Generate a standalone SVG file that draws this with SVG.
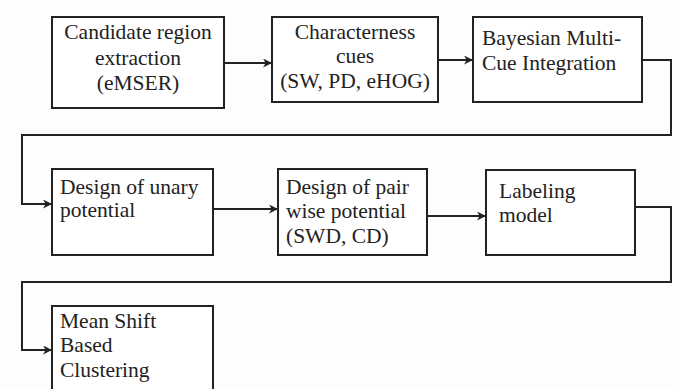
<svg xmlns="http://www.w3.org/2000/svg" width="678" height="389" viewBox="0 0 678 389">
<defs>
<marker id="arr" viewBox="0 0 10 10" refX="10" refY="5" markerWidth="10" markerHeight="9" orient="auto" markerUnits="userSpaceOnUse">
<path d="M0,0 L10,5 L0,10 L3,5 Z" fill="#222"/>
</marker>
<style>
.box{fill:#fff;stroke:#222;stroke-width:2}
.t{font-family:'Liberation Serif','Times New Roman','DejaVu Serif',serif;font-size:21.5px;fill:#222}
.c{text-anchor:middle}
.ln{fill:none;stroke:#222;stroke-width:2;marker-end:url(#arr)}
</style>
</defs>
<rect width="678" height="389" fill="#fdfdfd"/>
<g id="connectors">
<path class="ln" d="M224,63 H272"/>
<path class="ln" d="M438,60 H473"/>
<path class="ln" d="M642,60 H671 V135 H22 V204 H52"/>
<path class="ln" d="M213,209 H278"/>
<path class="ln" d="M427,216 H486"/>
<path class="ln" d="M635,207 H671 V282 H22 V350 H52"/>
</g>
<g id="n1"><rect class="box" x="52" y="17" width="172" height="91"/>
<text class="t c" x="138" y="39">Candidate region</text>
<text class="t c" x="138" y="65">extraction</text>
<text class="t c" x="138" y="90">(eMSER)</text></g>
<g id="n2"><rect class="box" x="272" y="17" width="166" height="85"/>
<text class="t c" x="355" y="39">Characterness</text>
<text class="t c" x="355" y="63">cues</text>
<text class="t c" x="355" y="88">(SW, PD, eHOG)</text></g>
<g id="n3"><rect class="box" x="473" y="17" width="169" height="85"/>
<text class="t" x="482" y="45">Bayesian Multi-</text>
<text class="t" x="482" y="70">Cue Integration</text></g>
<g id="n4"><rect class="box" x="52" y="169" width="161" height="86"/>
<text class="t" x="60" y="194">Design of unary</text>
<text class="t" x="60" y="217">potential</text></g>
<g id="n5"><rect class="box" x="278" y="169" width="149" height="86"/>
<text class="t" x="286" y="194">Design of pair</text>
<text class="t" x="286" y="218">wise potential</text>
<text class="t" x="286" y="243">(SWD, CD)</text></g>
<g id="n6"><rect class="box" x="486" y="170" width="149" height="85"/>
<text class="t" x="499" y="198">Labeling</text>
<text class="t" x="499" y="222">model</text></g>
<g id="n7"><rect class="box" x="52" y="306" width="161" height="95"/>
<text class="t" x="60" y="328">Mean Shift</text>
<text class="t" x="60" y="352">Based</text>
<text class="t" x="60" y="377">Clustering</text></g>
</svg>
